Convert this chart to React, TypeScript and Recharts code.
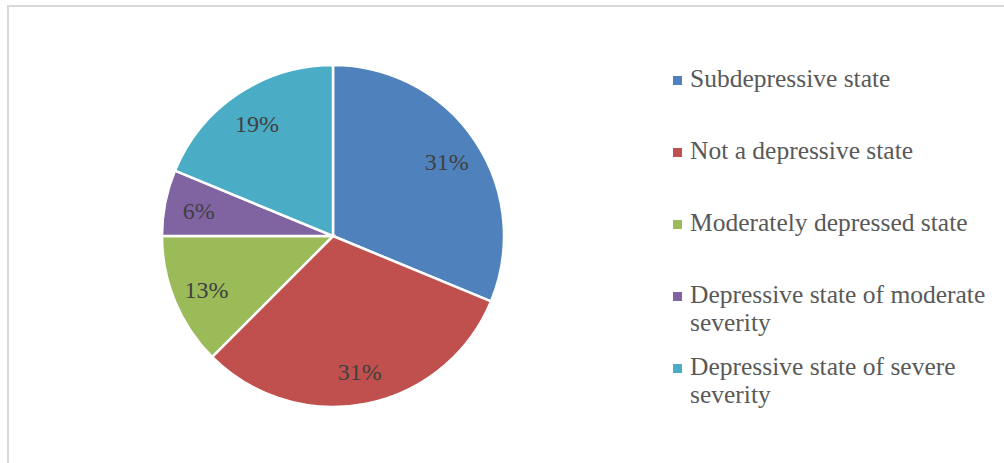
import React from "react";
import { PieChart, Pie, Cell, Legend } from "recharts";

const categories = [
  "Subdepressive state",
  "Not a depressive state",
  "Moderately depressed state",
  "Depressive state of moderate severity",
  "Depressive state of severe severity",
];
const counts = [10, 10, 4, 2, 6];
const colors = ["#4F81BD", "#C0504D", "#9BBB59", "#8064A2", "#4BACC6"];

const data = categories.map((name, i) => ({ name, value: counts[i] }));

const FONT = "'Liberation Serif', 'Times New Roman', serif";
const RAD = Math.PI / 180;

const renderLabel = (props: any) => {
  const { cx, cy, midAngle, outerRadius, percent } = props;
  const r = outerRadius * 0.8;
  const x = cx + r * Math.cos(-midAngle * RAD);
  const y = cy + r * Math.sin(-midAngle * RAD) + 2;
  return (
    <text
      x={x}
      y={y}
      fill="#404040"
      fontSize={24}
      fontFamily={FONT}
      textAnchor="middle"
      dominantBaseline="central"
    >
      {`${Math.round(percent * 100)}%`}
    </text>
  );
};

const renderLegend = () => (
  <div style={{ fontFamily: FONT, fontSize: 25.5, color: "#595959" }}>
    {data.map((d, i) => (
      <div key={d.name} style={{ height: 72, display: "flex", alignItems: "flex-start" }}>
        <span
          style={{
            width: 9,
            height: 9,
            background: colors[i],
            marginTop: 11,
            marginRight: 8,
            flex: "none",
          }}
        />
        <span style={{ lineHeight: "28px", width: 310 }}>{d.name}</span>
      </div>
    ))}
  </div>
);

export default function App() {
  return (
    <div style={{ position: "fixed", left: 0, top: 0, width: 1004, height: 463, background: "#fff", overflow: "hidden" }}>
      <div
        style={{
          position: "absolute",
          left: 7,
          top: 5,
          width: 1010,
          height: 470,
          borderTop: "2px solid #d9d9d9",
          borderLeft: "2px solid #d9d9d9",
        }}
      />
      <div style={{ position: "absolute", left: 0, top: 0 }}>
        <PieChart width={1004} height={463} margin={{ top: 0, right: 0, bottom: 0, left: 0 }}>
          <Pie
            data={data}
            dataKey="value"
            nameKey="name"
            cx={333}
            cy={236}
            outerRadius={171}
            startAngle={90}
            endAngle={-270}
            stroke="#fff"
            strokeWidth={2.5}
            label={renderLabel}
            labelLine={false}
            isAnimationActive={false}
          >
            {data.map((d, i) => (
              <Cell key={d.name} fill={colors[i]} />
            ))}
          </Pie>
          <Legend
            content={renderLegend}
            layout="vertical"
            wrapperStyle={{ position: "absolute", left: 673, top: 65, width: 330 }}
          />
        </PieChart>
      </div>
    </div>
  );
}
